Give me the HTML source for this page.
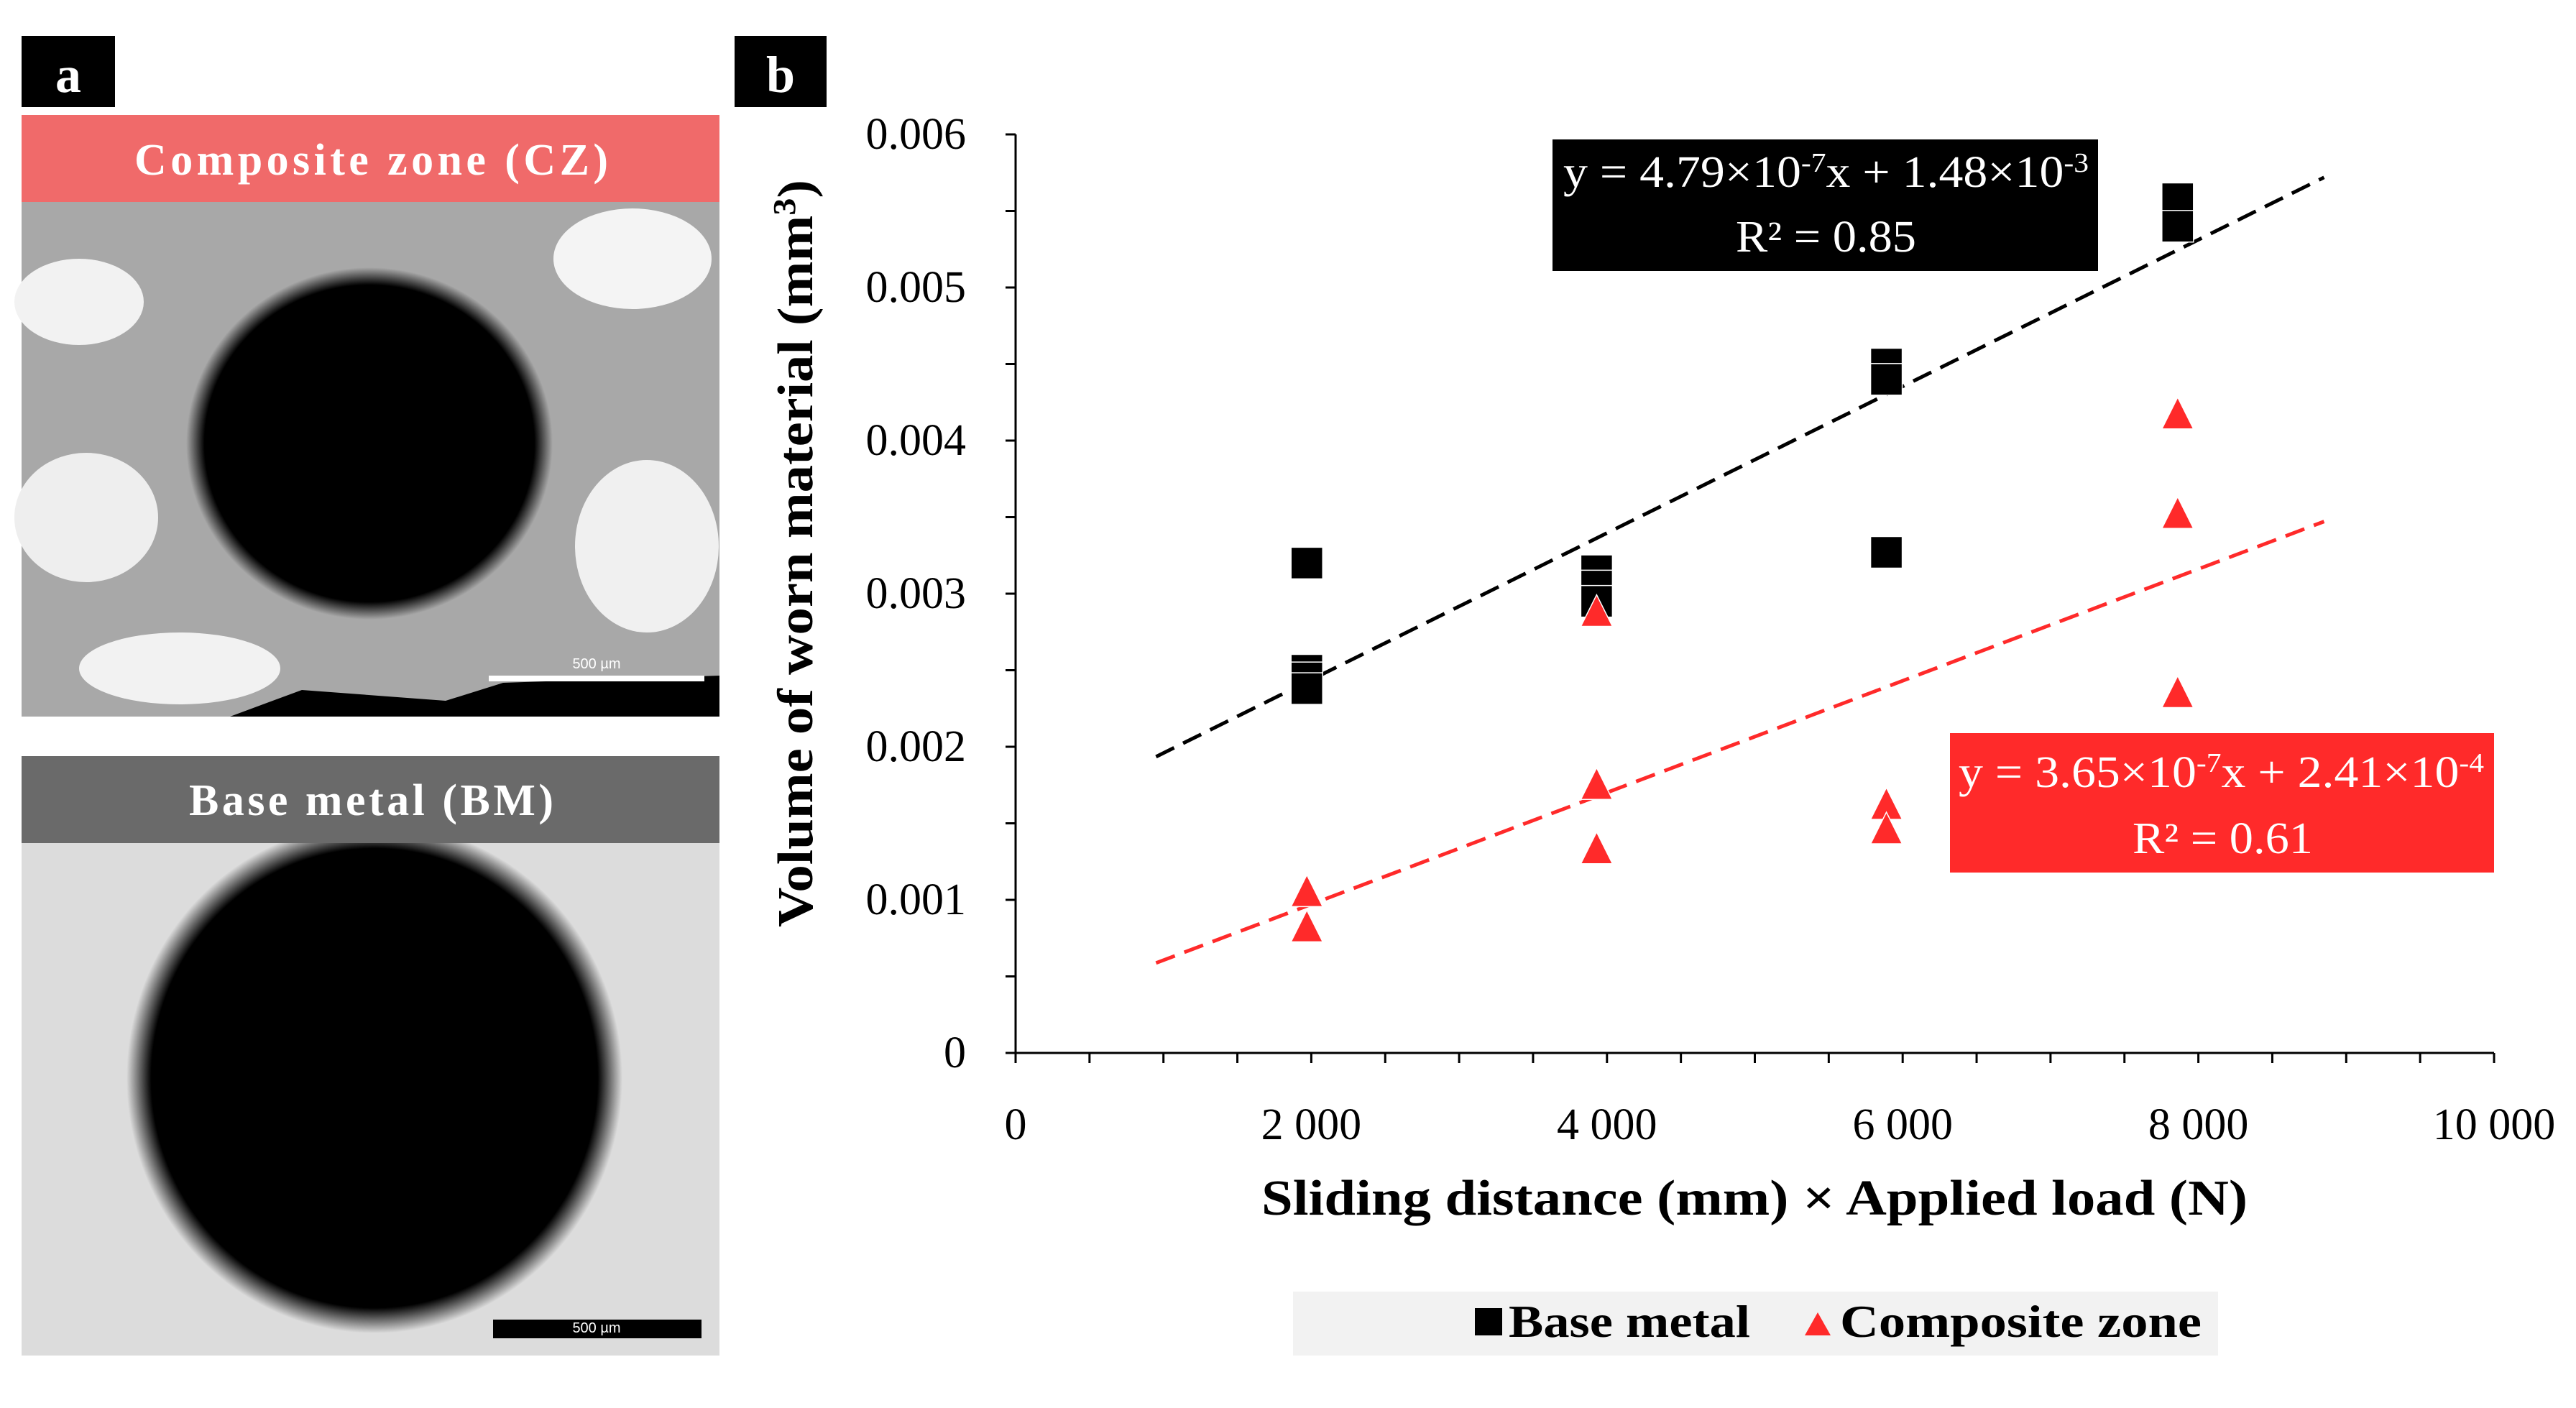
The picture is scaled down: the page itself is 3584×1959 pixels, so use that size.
<!DOCTYPE html>
<html><head><meta charset="utf-8"><style>
body{margin:0;background:#fff;}
svg{display:block;font-family:"Liberation Serif",serif;}
</style></head><body>
<svg id="fig" width="3584" height="1959" viewBox="0 0 3584 1959" xmlns="http://www.w3.org/2000/svg">
<defs>
<radialGradient id="dot1"><stop offset="0.9" stop-color="#000"/><stop offset="1" stop-color="#000" stop-opacity="0"/></radialGradient>
</defs>
<g>
<rect x="30" y="50" width="130" height="99" fill="#000"/>
<text x="95" y="128" font-size="72" font-weight="bold" fill="#fff" text-anchor="middle">a</text>
<g>
<rect x="30" y="281" width="971" height="716" fill="#a8a8a8"/>
<ellipse cx="110" cy="420" rx="90" ry="60" fill="#f2f2f2"/>
<ellipse cx="120" cy="720" rx="100" ry="90" fill="#eeeeee"/>
<ellipse cx="880" cy="360" rx="110" ry="70" fill="#f4f4f4"/>
<ellipse cx="900" cy="760" rx="100" ry="120" fill="#f0f0f0"/>
<ellipse cx="250" cy="930" rx="140" ry="50" fill="#f2f2f2"/>
<path d="M320 997 L420 960 L620 975 L700 950 L1001 940 L1001 997 Z" fill="#000"/>
<ellipse cx="514" cy="617" rx="255" ry="245" fill="url(#dot1)"/>
<rect x="680" y="940" width="300" height="8" fill="#fff"/>
<text x="830" y="930" font-size="20" fill="#fff" text-anchor="middle" font-family="Liberation Sans, sans-serif">500 µm</text>
</g>
<rect x="30" y="160" width="971" height="121" fill="#f06a6a"/>
<text x="187" y="243" font-size="62" font-weight="bold" fill="#fff" textLength="659" lengthAdjust="spacing">Composite zone (CZ)</text>
<g>
<rect x="30" y="1173" width="971" height="713" fill="#dcdcdc"/>
<ellipse cx="521" cy="1500" rx="345" ry="355" fill="url(#dot1)"/>
<rect x="686" y="1836" width="290" height="26" fill="#000"/>
<text x="830" y="1854" font-size="20" fill="#fff" text-anchor="middle" font-family="Liberation Sans, sans-serif">500 µm</text>
</g>
<rect x="30" y="1052" width="971" height="121" fill="#6a6a6a"/>
<text x="263" y="1134" font-size="62" font-weight="bold" fill="#fff" textLength="507" lengthAdjust="spacing">Base metal (BM)</text>
</g>
<rect x="1022" y="50" width="128" height="99" fill="#000"/>
<text x="1086" y="128" font-size="72" font-weight="bold" fill="#fff" text-anchor="middle">b</text>
<g id="plot"></g>
<text x="1755" y="1690" font-size="70" font-weight="bold" textLength="1372" lengthAdjust="spacingAndGlyphs">Sliding distance (mm) × Applied load (N)</text>
<text transform="translate(1130,770) rotate(-90)" x="-520" font-size="70" font-weight="bold" textLength="1040" lengthAdjust="spacingAndGlyphs">Volume of worn material (mm<tspan baseline-shift="super" font-size="44">3</tspan>)</text>
<rect x="2160" y="194" width="759" height="183" fill="#000"/>
<text x="2175" y="260" font-size="62" fill="#fff" textLength="731" lengthAdjust="spacingAndGlyphs">y = 4.79×10<tspan baseline-shift="super" font-size="38">-7</tspan>x + 1.48×10<tspan baseline-shift="super" font-size="38">-3</tspan></text>
<text x="2415" y="350" font-size="62" fill="#fff" textLength="251" lengthAdjust="spacingAndGlyphs">R² = 0.85</text>
<rect x="2713" y="1020" width="757" height="194" fill="#ff2a2a"/>
<text x="2725" y="1095" font-size="62" fill="#fff" textLength="731" lengthAdjust="spacingAndGlyphs">y = 3.65×10<tspan baseline-shift="super" font-size="38">-7</tspan>x + 2.41×10<tspan baseline-shift="super" font-size="38">-4</tspan></text>
<text x="2967" y="1187" font-size="62" fill="#fff" textLength="251" lengthAdjust="spacingAndGlyphs">R² = 0.61</text>
<g>
<rect x="1799" y="1797" width="1287" height="89" fill="#f2f2f2"/>
<rect x="2052" y="1820" width="38" height="38" fill="#000"/>
<text x="2099" y="1860" font-size="64" font-weight="bold" textLength="336" lengthAdjust="spacingAndGlyphs">Base metal</text>
<polygon points="2511,1858 2547,1858 2529,1826" fill="#ff2a2a"/>
<text x="2560" y="1860" font-size="64" font-weight="bold" textLength="503" lengthAdjust="spacingAndGlyphs">Composite zone</text>
</g>
</svg>
<script>
const xTicks=[0,2000,4000,6000,8000,10000];
const xTickLabels=["0","2 000","4 000","6 000","8 000","10 000"];
const yTicks=[0,0.001,0.002,0.003,0.004,0.005,0.006];
const yTickLabels=["0","0.001","0.002","0.003","0.004","0.005","0.006"];
const baseX=[1970,1970,1970,1970,3930,3930,3930,5890,5890,5890,7860,7860];
const baseY=[0.0032,0.0025,0.00245,0.00238,0.00315,0.00305,0.00295,0.0045,0.0044,0.00327,0.00558,0.0054];
const compX=[1970,1970,3930,3930,3930,5890,5890,7860,7860,7860];
const compY=[0.00105,0.00082,0.00288,0.00175,0.00133,0.00162,0.00146,0.00417,0.00352,0.00235];
const baseFit=[4.79e-7,1.48e-3];
const compFit=[3.65e-7,2.41e-4];
const fitRange=[950,8850];
const NS="http://www.w3.org/2000/svg";
const X=v=>1413+(v/10000)*2057;
const Y=v=>1465-(v/0.006)*1278;
const g=document.getElementById('plot');
function mk(t,a){const e=document.createElementNS(NS,t);for(const k in a)e.setAttribute(k,a[k]);g.appendChild(e);return e;}
let e=mk('line',{x1:X(0),y1:Y(0),x2:X(10000),y2:Y(0),stroke:'#000','stroke-width':3});


e=mk('line',{x1:X(0),y1:Y(0),x2:X(0),y2:Y(0.006),stroke:'#000','stroke-width':3});


for(let v=0;v<=10000;v+=500){e=mk('line',{x1:X(v),y1:Y(0),x2:X(v),y2:Y(0)+14,stroke:'#000','stroke-width':3});

}
for(let v=0;v<=0.0060001;v+=0.0005){e=mk('line',{x1:X(0)-14,y1:Y(v),x2:X(0),y2:Y(v),stroke:'#000','stroke-width':3});

}
xTicks.forEach((v,i)=>{e=mk('text',{x:X(v),y:1585,'font-size':62,'text-anchor':'middle'});e.textContent=xTickLabels[i];

});
yTicks.forEach((v,i)=>{e=mk('text',{x:1344,y:Y(v)+20,'font-size':62,'text-anchor':'end'});e.textContent=yTickLabels[i];

});
e=mk('line',{x1:X(fitRange[0]),y1:Y(baseFit[0]*fitRange[0]+baseFit[1]),x2:X(fitRange[1]),y2:Y(baseFit[0]*fitRange[1]+baseFit[1]),stroke:'#000','stroke-width':5,'stroke-dasharray':'28 14'});


e=mk('line',{x1:X(fitRange[0]),y1:Y(compFit[0]*fitRange[0]+compFit[1]),x2:X(fitRange[1]),y2:Y(compFit[0]*fitRange[1]+compFit[1]),stroke:'#ff2a2a','stroke-width':5,'stroke-dasharray':'28 14'});


baseX.forEach((x,i)=>{e=mk('rect',{x:X(x)-22,y:Y(baseY[i])-22,width:44,height:44,fill:'#000',stroke:'#fff','stroke-width':1.5});

});
compX.forEach((x,i)=>{const cx=X(x),cy=Y(compY[i]);e=mk('polygon',{points:`${cx-22},${cy+20} ${cx+22},${cy+20} ${cx},${cy-24}`,fill:'#ff2a2a',stroke:'#fff','stroke-width':1.5});

});
</script>
</body></html>
